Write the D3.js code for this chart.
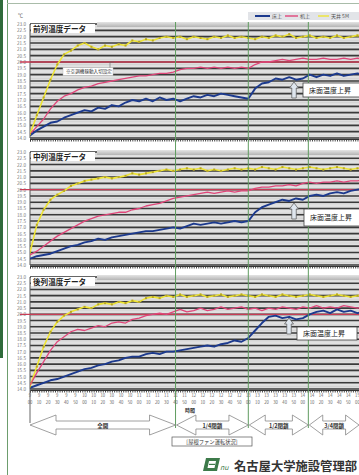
<!DOCTYPE html>
<html><head><meta charset="utf-8">
<script src="https://cdn.jsdelivr.net/npm/d3@7"></script>
<style>body{margin:0;background:#fff}svg{display:block}text{font-family:"Noto Sans CJK JP","Noto Sans",sans-serif}</style>
</head><body><svg id="c" width="359" height="475"></svg>
<script>
// ---- data ----
const timeLabels = ["9:00","9:10","9:20","9:30","9:40","9:50","10:00","10:10","10:20","10:30","10:40","10:50",
  "11:00","11:10","11:20","11:30","11:40","11:50","12:00","12:10","12:20","12:30","12:40","12:50",
  "13:00","13:10","13:20","13:30","13:40","13:50","14:00","14:10","14:20","14:30","14:40","14:50","15:00"];
const yTicks = [14.0,14.5,15.0,15.5,16.0,16.5,17.0,17.5,18.0,18.5,19.0,19.5,20.0,20.5,21.0,21.5,22.0,22.5,23.0];
const refTemp = 20.0;
const seriesNames = ["床上","机上","天井 5M"];
const chartTitles = ["前列温度データ","中列温度データ","後列温度データ"];
const phaseNames = ["全開","1/4閉鎖","1/2閉鎖","3/4閉鎖"];
const phaseStarts = [0,160,240,306];
const sampleStep = 7.5; // minutes between samples

const frontFloor = [14.2,14.6,14.9,15.2,15.3,15.6,15.8,16.0,16.2,16.1,16.4,16.3,16.6,16.5,16.8,17.0,16.9,17.1,16.9,17.2,17.0,17.1,16.9,17.1,17.3,17.2,17.4,17.3,17.5,17.4,17.3,17.2,17.1,17.9,18.3,18.4,18.7,18.6,18.8,18.6,18.7,19.0,18.8,19.0,18.9,19.1,18.9,19.0,19.1,19.0];
const frontDesk = [14.3,14.9,15.5,16.3,16.9,17.3,17.5,17.8,18.0,18.1,18.3,18.4,18.5,18.6,18.7,18.8,18.9,18.9,19.0,19.1,19.1,19.2,19.4,19.5,19.5,19.6,19.5,19.6,19.5,19.6,19.5,19.6,19.5,19.8,20.0,20.0,20.1,20.2,20.1,20.2,20.3,20.2,20.2,20.3,20.2,20.2,20.3,20.2,20.3,20.2];
const frontCeil = [14.3,15.8,17.2,18.6,19.8,20.6,20.9,21.3,21.5,21.2,21.0,21.3,21.2,21.4,21.3,21.7,21.6,21.8,21.7,21.9,22.0,21.9,22.0,21.8,22.0,21.9,21.8,22.0,21.9,22.1,21.9,22.0,21.9,21.8,22.0,21.9,22.1,22.0,22.2,21.9,22.0,22.1,21.9,22.0,21.9,22.1,21.9,22.0,22.1,22.0];
const midFloor = [14.5,14.7,14.8,14.9,15.1,15.3,15.5,15.6,15.8,15.9,16.1,16.0,16.2,16.3,16.4,16.5,16.6,16.7,16.7,16.8,16.9,17.0,16.9,17.1,17.3,17.2,17.3,17.4,17.3,17.4,17.5,17.4,17.5,18.2,18.6,18.8,19.0,19.2,19.1,19.3,19.2,19.5,19.6,19.5,19.7,19.8,19.7,19.9,20.0,20.1];
const midDesk = [14.8,15.1,15.5,15.9,16.3,16.6,16.9,17.2,17.5,17.7,17.9,18.0,18.1,18.2,18.2,18.4,18.5,18.7,18.8,18.9,19.1,19.3,19.4,19.5,19.6,19.7,19.8,19.7,19.8,19.9,19.8,19.9,19.9,20.1,20.2,20.2,20.3,20.3,20.4,20.3,20.5,20.6,20.5,20.6,20.6,20.7,20.6,20.7,20.7,20.8];
const midCeil = [15.0,17.2,18.4,19.2,19.6,19.9,20.3,20.5,20.7,20.8,20.9,21.0,20.9,21.0,21.1,21.3,21.2,21.3,21.4,21.5,21.6,21.5,21.6,21.7,21.6,21.7,21.5,21.6,21.5,21.6,21.7,21.6,21.7,21.6,21.8,21.7,21.6,21.8,21.7,21.6,21.7,21.8,21.7,21.6,21.7,21.8,21.7,21.6,21.7,21.7];
const rearFloor = [14.1,14.3,14.5,14.7,14.8,15.0,15.2,15.4,15.6,15.7,15.9,16.0,16.2,16.3,16.5,16.6,16.6,16.8,16.9,16.8,17.0,17.0,17.1,17.2,17.3,17.4,17.5,17.4,17.6,17.7,17.9,17.8,18.1,18.7,19.3,19.8,19.9,19.7,19.8,19.6,19.7,20.0,20.2,20.3,20.1,20.4,20.2,20.3,20.1,20.2];
const rearDesk = [14.3,15.3,16.2,17.1,17.8,18.2,18.6,18.8,18.7,18.9,19.1,19.0,19.3,19.4,19.3,19.6,19.7,19.9,20.0,20.1,20.0,20.2,20.4,20.2,20.3,20.5,20.3,20.4,20.6,20.4,20.5,20.6,20.4,20.5,20.3,20.5,20.4,20.6,20.5,20.4,20.6,20.5,20.7,20.5,20.6,20.5,20.7,20.6,20.5,20.6];
const rearCeil = [14.2,15.8,17.4,18.6,19.4,19.9,20.2,20.4,20.6,20.5,20.8,20.9,20.8,21.0,20.9,21.1,21.0,21.3,21.4,21.3,21.5,21.4,21.6,21.4,21.5,21.6,21.4,21.5,21.6,21.4,21.5,21.6,21.5,21.4,21.6,21.5,21.4,21.6,21.5,21.4,21.5,21.6,21.5,21.4,21.5,21.6,21.5,21.4,21.5,21.6];

const charts = [
  {title: chartTitles[0], series:[frontFloor, frontDesk, frontCeil], top:24, bottom:138},
  {title: chartTitles[1], series:[midFloor, midDesk, midCeil], top:152, bottom:265},
  {title: chartTitles[2], series:[rearFloor, rearDesk, rearCeil], top:277, bottom:389}
];
const colors = ["#1c3a8e","#e0467a","#eee434"];

// ---- drawing ----
const svg = d3.select("#c");
const W = 359;
const x = d3.scaleLinear().domain([0,365]).range([30,362]);

svg.append("defs").append("clipPath").attr("id","clip").append("rect").attr("x",30).attr("y",0).attr("width",W-30).attr("height",475);
const grad = svg.select("defs").append("linearGradient").attr("id","band").attr("x1",0).attr("x2",0).attr("y1",0).attr("y2",1);
grad.append("stop").attr("offset","0").attr("stop-color","#e4e4e4");
grad.append("stop").attr("offset","1").attr("stop-color","#b4b4b4");

// page frame
svg.append("rect").attr("x",0).attr("y",0).attr("width",3).attr("height",358).attr("fill","#2f6b3a");
svg.append("line").attr("x1",7.5).attr("x2",7.5).attr("y1",0).attr("y2",475).attr("stroke","#6d9d6d").attr("stroke-width",1);
svg.append("line").attr("x1",7).attr("x2",W).attr("y1",3.5).attr("y2",3.5).attr("stroke","#a9bca9").attr("stroke-width",1);

// legend
const lg = svg.append("g");
lg.append("rect").attr("x",248).attr("y",12).attr("width",111).attr("height",8).attr("fill","#e2e4e8");
[[255,270],[285,298],[318,329]].forEach((p,i)=>{
  lg.append("line").attr("x1",p[0]).attr("x2",p[1]).attr("y1",16).attr("y2",16)
    .attr("stroke",colors[i]).attr("stroke-width",i===0?2:1.4);
  lg.append("text").attr("x",p[1]+2).attr("y",18).attr("font-size",5).attr("fill","#555").text(seriesNames[i]);
});
svg.append("text").attr("x",18).attr("y",17).attr("font-size",5).attr("fill","#666").text("℃");

charts.forEach((c,ci)=>{
  const y = d3.scaleLinear().domain([14,23]).range([c.bottom,c.top]);
  const g = svg.append("g");
  // minor grid
  g.selectAll(".mn").data(d3.range(14,23.001,0.1)).join("line")
    .attr("x1",30).attr("x2",W).attr("y1",d=>y(d)).attr("y2",d=>y(d))
    .attr("stroke","#b6b6b6").attr("stroke-width",0.6);
  // major grid
  g.selectAll(".mj").data(yTicks).join("line")
    .attr("x1",30).attr("x2",W).attr("y1",d=>y(d)).attr("y2",d=>y(d))
    .attr("stroke","#3a3a3a").attr("stroke-width",1.6);
  // y axis labels
  const ya = g.append("g").attr("transform","translate(27,0)")
    .call(d3.axisLeft(y).tickValues(yTicks).tickFormat(d3.format(".1f")).tickSize(0).tickPadding(1));
  ya.select(".domain").remove();
  ya.selectAll("text").attr("font-size",4.6).attr("fill","#777").attr("font-family","DejaVu Sans");
  // left axis line
  g.append("line").attr("x1",30).attr("x2",30).attr("y1",c.top).attr("y2",c.bottom).attr("stroke","#555").attr("stroke-width",1);
  // x axis (dense ticks)
  const xa = g.append("g").attr("transform",`translate(0,${c.bottom+1})`)
    .call(d3.axisBottom(x).tickValues(d3.range(0,366,2.5)).tickSize(2.5).tickFormat(""));
  xa.select(".domain").attr("stroke","#333").attr("stroke-width",1);
  xa.selectAll(".tick line").attr("stroke","#333").attr("stroke-width",0.9);
  // reference line 20.0
  g.append("line").attr("x1",20).attr("x2",W).attr("y1",y(refTemp)).attr("y2",y(refTemp))
    .attr("stroke","#c83c55").attr("stroke-width",1.3);
  // title band
  g.append("rect").attr("x",97).attr("y",c.top-2).attr("width",W-97).attr("height",5).attr("fill","url(#band)");
  g.append("rect").attr("x",31).attr("y",c.top).attr("width",64).attr("height",9).attr("fill","#fff");
  g.append("text").attr("x",33).attr("y",c.top+7.5).attr("font-size",7.6).attr("font-weight","bold").attr("fill","#222").text(c.title);
  // series
  const line = d3.line().x((d,i)=>x(i*sampleStep)).y(d=>y(d));
  const pg = g.append("g").attr("clip-path","url(#clip)");
  [2,1,0].forEach(si=>{
    pg.append("path").datum(c.series[si]).attr("d",line).attr("fill","none")
      .attr("stroke",colors[si]).attr("stroke-width",si===0?1.9:si===1?1.3:1.6).attr("stroke-linejoin","round");
  });
  pg.selectAll(".mk").data(c.series[2]).join("rect")
    .attr("x",(d,i)=>x(i*sampleStep)-1).attr("y",d=>y(d)-1).attr("width",2).attr("height",2)
    .attr("fill","#b9a824");
});

// phase lines
svg.selectAll(".ph").data(phaseStarts.slice(1)).join("line")
  .attr("x1",d=>x(d)).attr("x2",d=>x(d)).attr("y1",22).attr("y2",428)
  .attr("stroke","#5f9c5f").attr("stroke-width",1);
svg.append("line").attr("x1",30).attr("x2",30).attr("y1",389).attr("y2",423).attr("stroke","#666").attr("stroke-width",1);

// time labels
const tl = svg.append("g").selectAll("text").data(timeLabels).join("text")
  .attr("x",(d,i)=>x(i*10)).attr("text-anchor","middle").attr("font-size",4.2).attr("fill","#666")
  .attr("font-family","DejaVu Sans");
tl.append("tspan").attr("x",(d,i)=>x(i*10)).attr("y",397).text(d=>d.split(":")[0]);
tl.append("tspan").attr("x",(d,i)=>x(i*10)).attr("y",404).text(d=>d.split(":")[1]);

svg.append("text").attr("x",190).attr("y",412).attr("font-size",5).attr("font-weight","bold").attr("fill","#333").attr("text-anchor","middle").text("時間");

// phase arrows
const ends = phaseStarts.slice(1).concat([365]);
function dbl(x1,x2,cy){
  const h = Math.min(26,(x2-x1)*0.27), H=10, b=4;
  return `M${x1},${cy}L${x1+h},${cy-H}L${x1+h},${cy-b}L${x2-h},${cy-b}L${x2-h},${cy-H}L${x2},${cy}L${x2-h},${cy+H}L${x2-h},${cy+b}L${x1+h},${cy+b}L${x1+h},${cy+H}Z`;
}
phaseStarts.forEach((s,i)=>{
  const x1 = x(s)+ (i?1:0), x2 = Math.min(x(ends[i]), 359);
  svg.append("path").attr("d",dbl(x1,x2,425)).attr("fill","#fff").attr("stroke","#888").attr("stroke-width",0.8);
  svg.append("text").attr("x",(x1+x2)/2).attr("y",427.5).attr("text-anchor","middle").attr("font-size",5.5)
    .attr("font-weight","bold").attr("fill","#333").text(phaseNames[i]);
});
svg.append("rect").attr("x",172).attr("y",437).attr("width",80).attr("height",9).attr("fill","#fff").attr("stroke","#555").attr("stroke-width",0.7);
svg.append("text").attr("x",212).attr("y",443.7).attr("text-anchor","middle").attr("font-size",5.3).attr("fill","#333").text("[屋根ファン運転状況]");

// annotations
svg.append("rect").attr("x",63).attr("y",67.5).attr("width",50).attr("height",8).attr("fill","#fff").attr("stroke","#bbb").attr("stroke-width",0.5);
svg.append("text").attr("x",66).attr("y",73.3).attr("font-size",4.6).attr("fill","#333").text("※空調機稼動入切設定");
svg.append("path").attr("d","M110,67.5L110,62L114,62").attr("fill","none").attr("stroke","#666").attr("stroke-width",0.6);

const notes = [{ax:294,ay:82,bx:303,by:83,bw:60,bh:14},{ax:294,ay:203,bx:304,by:209,bw:60,bh:17},{ax:289,ay:318,bx:297,by:327,bw:60,bh:13}];
notes.forEach(n=>{
  const w=9, sh=4.5, hh=6, L=16;
  const p = `M${n.ax},${n.ay}L${n.ax+w/2},${n.ay+hh}L${n.ax+sh/2},${n.ay+hh}L${n.ax+sh/2},${n.ay+L}L${n.ax-sh/2},${n.ay+L}L${n.ax-sh/2},${n.ay+hh}L${n.ax-w/2},${n.ay+hh}Z`;
  svg.append("path").attr("d",p).attr("fill","#dfe6ee").attr("stroke","#555").attr("stroke-width",0.7);
  svg.append("rect").attr("x",n.bx).attr("y",n.by).attr("width",n.bw).attr("height",n.bh).attr("fill","#fff").attr("stroke","#444").attr("stroke-width",0.8);
  svg.append("text").attr("x",n.bx+6).attr("y",n.by+n.bh/2+2.5).attr("font-size",7).attr("fill","#222").text("床面温度上昇");
});

// footer logo + name
const lo = svg.append("g");
lo.append("path").attr("d","M206,458L220,458L217,471L203,471Z").attr("fill","#3d7a4a");
lo.append("path").attr("d","M209,461L216,461L214.5,468L207.5,468Z").attr("fill","#fff");
lo.append("rect").attr("x",209).attr("y",463.8).attr("width",6).attr("height",1.2).attr("fill","#3d7a4a");
lo.append("text").attr("x",220).attr("y",470).attr("font-size",7).attr("font-style","italic").attr("fill","#3d7a4a").text("nu");
svg.append("text").attr("x",234).attr("y",470.5).attr("font-size",12.3).attr("font-weight","bold").attr("fill","#333").text("名古屋大学施設管理部");
</script></body></html>
